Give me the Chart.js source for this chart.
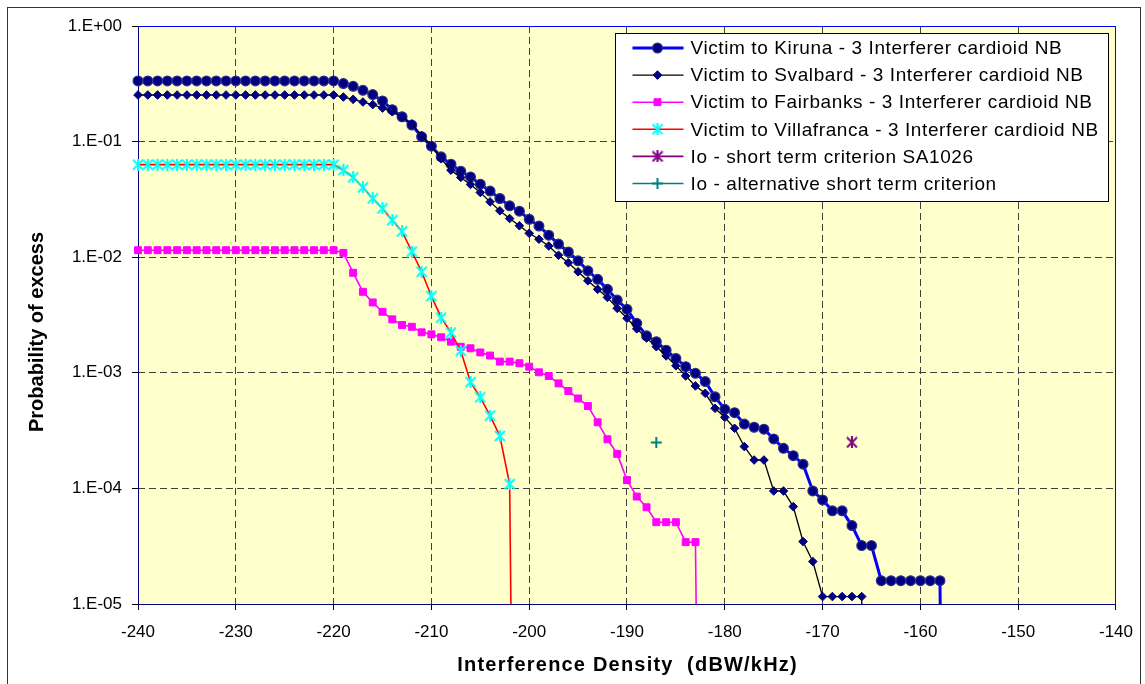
<!DOCTYPE html>
<html>
<head>
<meta charset="utf-8">
<script src="https://cdn.jsdelivr.net/npm/chart.js@4.4.1/dist/chart.umd.min.js"></script>
<style>
  html, body { margin: 0; padding: 0; background: #ffffff; }
  #wrap { width: 1145px; height: 684px; position: relative; }
  canvas { display: block; }
</style>
</head>
<body>
<div id="wrap"><canvas id="chart" width="1145" height="684"></canvas></div>
<script>
// Interference density grid (dBW/kHz), 1 dB steps
const density = [
  -240,-239,-238,-237,-236,-235,-234,-233,-232,-231,-230,-229,-228,-227,-226,-225,-224,-223,-222,-221,
  -220,-219,-218,-217,-216,-215,-214,-213,-212,-211,-210,-209,-208,-207,-206,-205,-204,-203,-202,-201,
  -200,-199,-198,-197,-196,-195,-194,-193,-192,-191,-190,-189,-188,-187,-186,-185,-184,-183,-182,-181,
  -180,-179,-178,-177,-176,-175,-174,-173,-172,-171,-170,-169,-168,-167,-166,-165,-164,-163,-162,-161,
  -160,-159,-158,-157
];

// Probability of excess per victim station (0 = no excess, drawn as a drop to the axis)
const kiruna = [
  0.335,0.335,0.335,0.335,0.335,0.335,0.335,0.335,0.335,0.335,0.335,0.335,0.335,0.335,0.335,0.335,0.335,0.335,0.335,0.335,
  0.335,0.318,0.301,0.278,0.255,0.225,0.189,0.164,0.139,0.110,0.0912,0.0738,0.0638,0.0555,0.0495,0.0428,0.0373,0.0322,0.0278,0.0250,
  0.0213,0.0186,0.0155,0.0130,0.0111,0.0093,0.00763,0.00643,0.00527,0.00426,0.00354,0.00268,0.00209,0.00186,0.00157,0.00133,0.00113,0.00099,0.00084,0.00062,
  0.000483,0.000452,0.00036,0.000338,0.000325,0.000268,0.000222,0.000192,0.000162,0.000095,0.0000795,0.000064,0.000064,0.0000477,0.000032,0.000032,0.0000159,0.0000159,0.0000159,0.0000159,
  0.0000159,0.0000159,0.0000159,0
];

const svalbard = [
  0.253,0.253,0.253,0.253,0.253,0.253,0.253,0.253,0.253,0.253,0.253,0.253,0.253,0.253,0.253,0.253,0.253,0.253,0.253,0.253,
  0.253,0.243,0.232,0.220,0.209,0.195,0.181,0.163,0.142,0.113,0.092,0.071,0.0566,0.049,0.0426,0.0363,0.0301,0.0252,0.0216,0.0187,
  0.0161,0.0143,0.0125,0.0104,0.00895,0.00748,0.00625,0.00527,0.00449,0.00361,0.00296,0.0024,0.002,0.00168,0.0014,0.00115,0.00094,0.00077,0.000665,0.000493,
  0.000412,0.000331,0.00023,0.000176,0.000176,0.000095,0.000095,0.0000696,0.0000347,0.0000233,0.0000116,0.0000116,0.0000116,0.0000116,0.0000116,0
];

const fairbanks = [
  0.0115,0.0115,0.0115,0.0115,0.0115,0.0115,0.0115,0.0115,0.0115,0.0115,0.0115,0.0115,0.0115,0.0115,0.0115,0.0115,0.0115,0.0115,0.0115,0.0115,
  0.0115,0.0109,0.00733,0.00502,0.00406,0.00337,0.0029,0.00259,0.0025,0.00224,0.00215,0.00203,0.00186,0.00168,0.00163,0.0015,0.00141,0.00125,0.00125,0.00121,
  0.00113,0.00101,0.000938,0.00081,0.000696,0.0006,0.000516,0.000373,0.000266,0.000199,0.000118,0.000085,0.0000687,0.000051,0.000051,0.000051,0.0000343,0.0000343,0
];

const villafranca = [
  0.0632,0.0632,0.0632,0.0632,0.0632,0.0632,0.0632,0.0632,0.0632,0.0632,0.0632,0.0632,0.0632,0.0632,0.0632,0.0632,0.0632,0.0632,0.0632,0.0632,
  0.0632,0.0566,0.049,0.0401,0.0322,0.0264,0.0209,0.0167,0.0112,0.00748,0.0046,0.003,0.00223,0.00155,0.00083,0.000614,0.000426,0.000284,0.000109,0
];

// Interference criteria (single points)
const ioShortTerm = [{ x: -167, y: 0.00025 }];
const ioAlternative = [{ x: -187, y: 0.00025 }];

const seriesLabels = [
  'Victim to Kiruna - 3 Interferer cardioid NB',
  'Victim to Svalbard - 3 Interferer cardioid NB',
  'Victim to Fairbanks - 3 Interferer cardioid NB',
  'Victim to Villafranca - 3 Interferer cardioid NB',
  'Io - short term criterion SA1026',
  'Io - alternative short term criterion'
];

const xTickValues = [-240,-230,-220,-210,-200,-190,-180,-170,-160,-150,-140];
const yTickValues = [1, 0.1, 0.01, 0.001, 0.0001, 0.00001];
const yTickLabels = ['1.E+00','1.E-01','1.E-02','1.E-03','1.E-04','1.E-05'];
const xAxisTitle = 'Interference Density  (dBW/kHz)';
const yAxisTitle = 'Probability of excess';

const FONT = "'Liberation Sans', Arial, sans-serif";
const LOG_FLOOR = 1e-12;   // stands in for zero on the log axis

function toPoints(values) {
  return values.map((v, i) => ({ x: density[i], y: v > 0 ? v : LOG_FLOOR }));
}

// "*" marker: diagonal cross with a vertical stroke
function asteriskMarker(color, size, lineWidth) {
  const c = document.createElement('canvas');
  c.width = size; c.height = size;
  const g = c.getContext('2d');
  g.strokeStyle = color;
  g.lineWidth = lineWidth;
  const a = lineWidth / 2, b = size - lineWidth / 2;
  g.beginPath();
  g.moveTo(a, a); g.lineTo(b, b);
  g.moveTo(b, a); g.lineTo(a, b);
  g.moveTo(size / 2, 0); g.lineTo(size / 2, size);
  g.stroke();
  return c;
}

const cyanStar = asteriskMarker('#00FFFF', 12, 2);
const purpleStar = asteriskMarker('#800080', 12, 2);

const hideAtFloor = (r) => (ctx) => (ctx.raw && ctx.raw.y <= LOG_FLOOR ? 0 : r);
const dataClip = { left: 12, top: 12, right: 12, bottom: 0 };

const datasets = [
  {
    label: seriesLabels[0], data: toPoints(kiruna), order: 6,
    borderColor: '#0000FF', borderWidth: 3,
    pointStyle: 'circle', markerRadius: 4.9, pointRadius: hideAtFloor(4.9),
    pointBackgroundColor: '#000080', pointBorderColor: '#2E2E90', pointBorderWidth: 1.2
  },
  {
    label: seriesLabels[1], data: toPoints(svalbard), order: 5,
    borderColor: '#000000', borderWidth: 1.3,
    pointStyle: 'rectRot', markerRadius: 4.3, pointRadius: hideAtFloor(4.3),
    pointBackgroundColor: '#000080', pointBorderColor: '#000080', pointBorderWidth: 1
  },
  {
    label: seriesLabels[2], data: toPoints(fairbanks), order: 4,
    borderColor: '#FF00FF', borderWidth: 1.6,
    pointStyle: 'rect', markerRadius: 4.9, pointRadius: hideAtFloor(4.9),
    pointBackgroundColor: '#FF00FF', pointBorderColor: '#FF00FF', pointBorderWidth: 1
  },
  {
    label: seriesLabels[3], data: toPoints(villafranca), order: 3,
    borderColor: '#FF0000', borderWidth: 1.6,
    pointStyle: cyanStar, markerRadius: 6, pointRadius: hideAtFloor(6),
    pointBackgroundColor: '#00FFFF', pointBorderColor: '#00FFFF', pointBorderWidth: 0
  },
  {
    label: seriesLabels[4], data: ioShortTerm, order: 2, showLine: false,
    borderColor: '#800080', borderWidth: 1.6,
    pointStyle: purpleStar, markerRadius: 6, pointRadius: 6,
    pointBackgroundColor: '#800080', pointBorderColor: '#800080', pointBorderWidth: 0
  },
  {
    label: seriesLabels[5], data: ioAlternative, order: 1, showLine: false,
    borderColor: '#008080', borderWidth: 1.6,
    pointStyle: 'cross', markerRadius: 5.5, pointRadius: 5.5,
    pointBackgroundColor: '#008080', pointBorderColor: '#008080', pointBorderWidth: 2
  }
];
datasets.forEach(d => { d.tension = 0; d.clip = dataClip; d.pointHoverRadius = d.pointRadius; });

// Plot background, frame, outer chart border and axis titles
const framePlugin = {
  id: 'frame',
  beforeDraw(chart) {
    const { ctx, chartArea: a } = chart;
    ctx.save();
    ctx.fillStyle = '#FFFFFF';
    ctx.fillRect(0, 0, chart.width, chart.height);
    ctx.fillStyle = '#FFFFCC';
    ctx.fillRect(a.left, a.top, a.right - a.left, a.bottom - a.top);
    ctx.strokeStyle = '#333333';
    ctx.lineWidth = 1;
    ctx.strokeRect(7.5, 7.5, 1133, chart.height + 10);
    ctx.restore();
  },
  beforeDatasetsDraw(chart) {
    const { ctx, chartArea: a } = chart;
    ctx.save();
    ctx.strokeStyle = '#0000FF';
    ctx.lineWidth = 1;
    ctx.strokeRect(a.left + 0.5, a.top + 0.5, a.right - a.left - 1, a.bottom - a.top);
    ctx.strokeStyle = '#000080';
    ctx.beginPath();
    ctx.moveTo(a.left + 0.5, a.top);
    ctx.lineTo(a.left + 0.5, a.bottom + 0.5);
    ctx.lineTo(a.right, a.bottom + 0.5);
    ctx.stroke();
    ctx.restore();
  },
  afterDraw(chart) {
    const { ctx, chartArea: a } = chart;
    ctx.save();
    ctx.fillStyle = '#000000';
    ctx.font = 'bold 20px ' + FONT;
    ctx.textAlign = 'center';
    ctx.textBaseline = 'middle';
    if ('letterSpacing' in ctx) ctx.letterSpacing = '1.2px';
    ctx.fillText(xAxisTitle, (a.left + a.right) / 2 + 0.6, a.bottom + 61);
    if ('letterSpacing' in ctx) ctx.letterSpacing = '0px';
    ctx.translate(37, (a.top + a.bottom) / 2 + 17);
    ctx.rotate(-Math.PI / 2);
    ctx.fillText(yAxisTitle, 0, 0);
    ctx.restore();
  }
};

// Boxed legend with line-and-marker samples, inside the plot's upper right
const boxLegendPlugin = {
  id: 'boxLegend',
  afterDraw(chart) {
    const { ctx, chartArea: a } = chart;
    const w = 493, h = 168;
    const x0 = Math.round(a.right - 8 - w) + 0.5;
    const y0 = Math.round(a.top + 7) + 0.5;
    const rowH = 27.1;
    ctx.save();
    ctx.fillStyle = '#FFFFFF';
    ctx.fillRect(x0, y0, w, h);
    ctx.strokeStyle = '#000000';
    ctx.lineWidth = 1;
    ctx.strokeRect(x0, y0, w, h);
    chart.data.datasets.forEach((ds, i) => {
      const y = y0 + 14.5 + i * rowH;
      ctx.strokeStyle = ds.borderColor;
      ctx.lineWidth = ds.borderWidth;
      ctx.beginPath();
      ctx.moveTo(x0 + 17, y);
      ctx.lineTo(x0 + 68, y);
      ctx.stroke();
      ctx.fillStyle = ds.pointBackgroundColor;
      ctx.strokeStyle = ds.pointBorderColor;
      ctx.lineWidth = ds.pointBorderWidth;
      Chart.helpers.drawPoint(ctx, {
        pointStyle: ds.pointStyle, radius: ds.markerRadius,
        rotation: 0, borderWidth: ds.pointBorderWidth
      }, x0 + 42, y);
      ctx.fillStyle = '#000000';
      ctx.font = '19px ' + FONT;
      ctx.textBaseline = 'middle';
      ctx.textAlign = 'left';
      if ('letterSpacing' in ctx) ctx.letterSpacing = '0.6px';
      ctx.fillText(ds.label, x0 + 75, y + 1);
      if ('letterSpacing' in ctx) ctx.letterSpacing = '0px';
    });
    ctx.restore();
  }
};

const edgeColor = (lo, hi) => (c) => {
  const v = c.tick ? c.tick.value : null;
  return (v === lo || v === hi) ? 'rgba(0,0,0,0)' : '#404040';
};

new Chart(document.getElementById('chart'), {
  type: 'line',
  data: { datasets },
  plugins: [framePlugin, boxLegendPlugin],
  options: {
    responsive: false,
    animation: false,
    events: [],
    layout: { padding: { left: 0, right: 25, top: 26, bottom: 0 } },
    plugins: { legend: { display: false }, tooltip: { enabled: false } },
    scales: {
      x: {
        type: 'linear', min: -240, max: -140,
        afterBuildTicks: (s) => { s.ticks = xTickValues.map(v => ({ value: v })); },
        afterFit: (s) => { s.height = 80; },
        ticks: {
          color: '#000000', padding: 12, maxRotation: 0, autoSkip: false,
          font: { family: FONT, size: 17 },
          callback: (v) => String(v)
        },
        grid: {
          color: edgeColor(-240, -140), lineWidth: 1,
          tickLength: 6, tickColor: '#000000', tickWidth: 1, tickBorderDash: []
        },
        border: { display: false, dash: [7, 4] }
      },
      y: {
        type: 'logarithmic', min: 0.00001, max: 1,
        afterBuildTicks: (s) => { s.ticks = yTickValues.map(v => ({ value: v })); },
        afterFit: (s) => { s.width = 138; },
        ticks: {
          color: '#000000', padding: 10, autoSkip: false,
          font: { family: FONT, size: 17 },
          callback: (v) => yTickLabels[yTickValues.indexOf(v)]
        },
        grid: {
          color: edgeColor(1, 0.00001), lineWidth: 1,
          tickLength: 6, tickColor: '#000000', tickWidth: 1, tickBorderDash: []
        },
        border: { display: false, dash: [7, 4] }
      }
    }
  }
});
</script>
</body>
</html>
